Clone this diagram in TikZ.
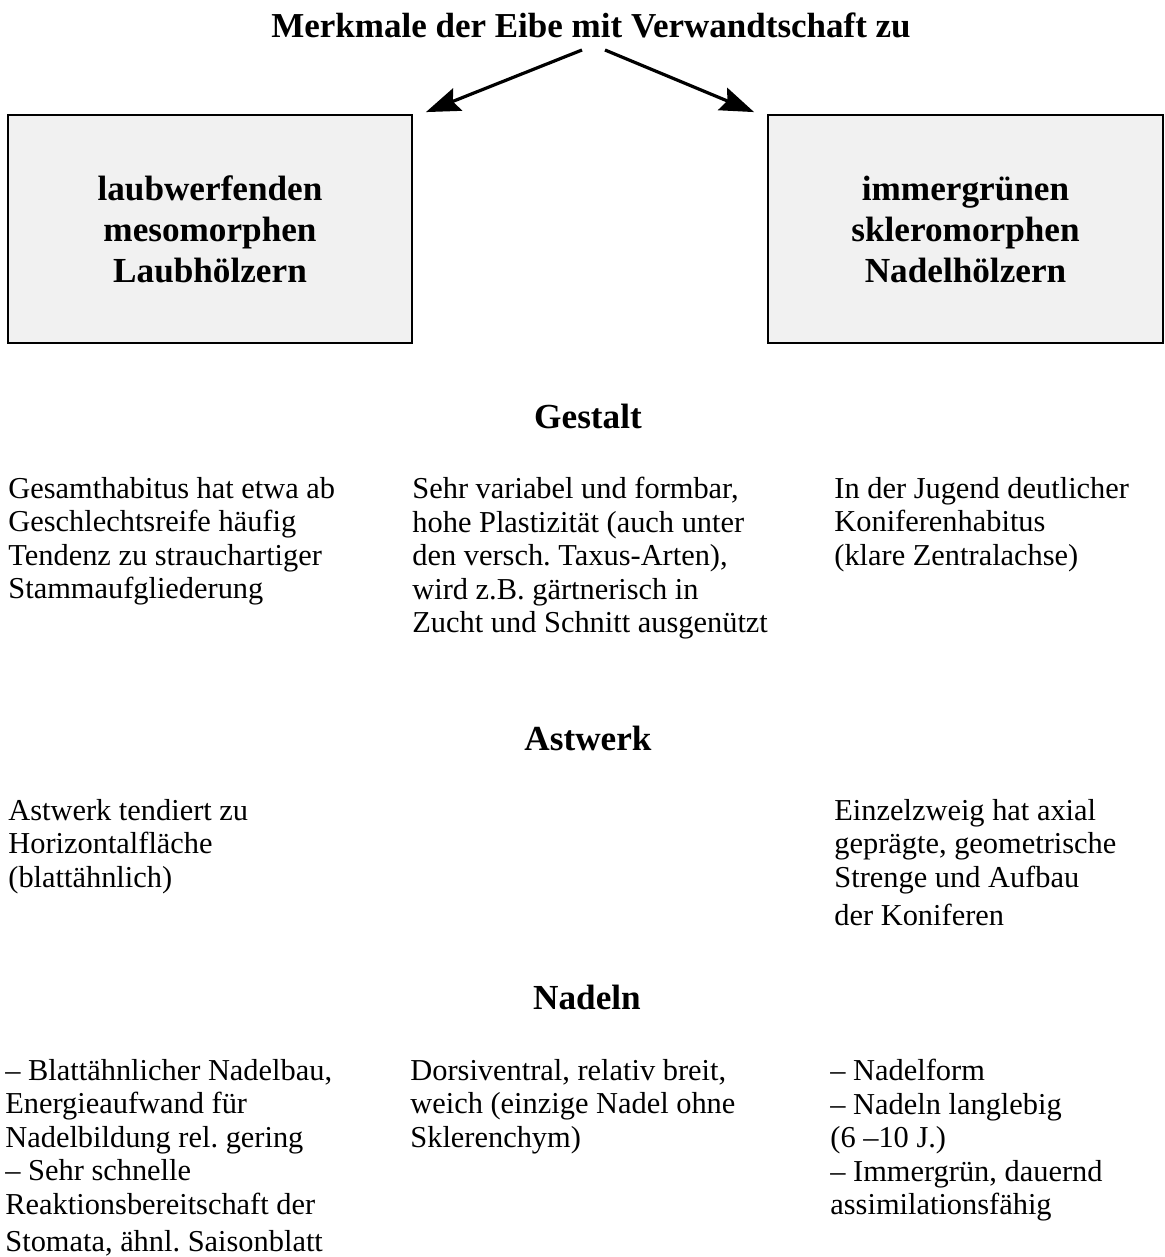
\documentclass[tikz,border=0pt]{standalone}
\usepackage{fontspec}
\setmainfont{Liberation Serif}
\usepackage{tikz}
\usetikzlibrary{arrows.meta,positioning}
\definecolor{boxgrey}{RGB}{241,241,241}
\frenchspacing

\begin{document}
\begin{tikzpicture}[x=0.5pt, y=-0.5pt,
    kasten/.style={rectangle, draw=black, line width=0.9pt, fill=boxgrey, align=center, font=\fontsize{17.6}{20.5}\selectfont\bfseries},
    titel/.style={font=\fontsize{17.5}{21}\selectfont\bfseries, anchor=base, inner sep=0pt},
    kopf/.style={font=\fontsize{17.6}{21}\selectfont\bfseries, anchor=base, inner sep=0pt},
    txt/.style={font=\fontsize{15.2}{16.7}\selectfont, align=left, anchor=north west, inner sep=0pt},
    pfeil/.style={-{Stealth[length=17pt, width=12pt, inset=2.5pt]}, line width=1.6pt}
]
    \useasboundingbox (0,0) rectangle (1165,1257);

    % Titel und die zwei Gruppen
    \node[titel] (titel) at (591,38) {Merkmale der Eibe mit Verwandtschaft zu};
    \node[kasten, minimum width=202pt, minimum height=114pt] (laub) at (210,229) {laubwerfenden\\mesomorphen\\Laubhölzern};
    \node[kasten, minimum width=197.5pt, minimum height=114pt] (nadel) at (965.5,229) {immergrünen\\skleromorphen\\Nadelhölzern};

    \coordinate (vonL) at (582,50);
    \coordinate (vonR) at (605,50);
    \draw[pfeil] (vonL) -- ([shift={(13,-2)}]laub.north east);
    \draw[pfeil] (vonR) -- ([shift={(-13,-2)}]nadel.north west);

    % Gestalt
    \node[kopf] (gestalt) at (588,428) {Gestalt};
    \node[txt] (gestaltL) at (8,477) {Gesamthabitus hat etwa ab\\Geschlechtsreife häufig\\Tendenz zu strauchartiger\\Stammaufgliederung};
    \node[txt] (gestaltM) at (412,477) {Sehr variabel und formbar,\\hohe Plastizität (auch unter\\den versch. Taxus-Arten),\\wird z.B. gärtnerisch in\\Zucht und Schnitt ausgenützt};
    \node[txt] (gestaltR) at (834,477) {In der Jugend deutlicher\\Koniferenhabitus\\(klare Zentralachse)};

    % Astwerk
    \node[kopf] (astwerk) at (588,750) {Astwerk};
    \node[txt] (astwerkL) at (8,799) {Astwerk tendiert zu\\Horizontalfläche\\(blattähnlich)};
    \node[txt] (astwerkR) at (834,799) {Einzelzweig hat axial\\geprägte, geometrische\\Strenge und Aufbau\\[2.3pt]der Koniferen};

    % Nadeln
    \node[kopf] (nadeln) at (587,1009) {Nadeln};
    \node[txt] (nadelnL) at (5,1059) {– Blattähnlicher Nadelbau,\\Energieaufwand für\\Nadelbildung rel. gering\\– Sehr schnelle\\Reaktionsbereitschaft der\\[1.8pt]Stomata, ähnl. Saisonblatt};
    \node[txt] (nadelnM) at (410,1059) {Dorsiventral, relativ breit,\\weich (einzige Nadel ohne\\Sklerenchym)};
    \node[txt] (nadelnR) at (830,1059) {– Nadelform\\– Nadeln langlebig\\(6 –10 J.)\\– Immergrün, dauernd\\assimilationsfähig};
\end{tikzpicture}
\end{document}
